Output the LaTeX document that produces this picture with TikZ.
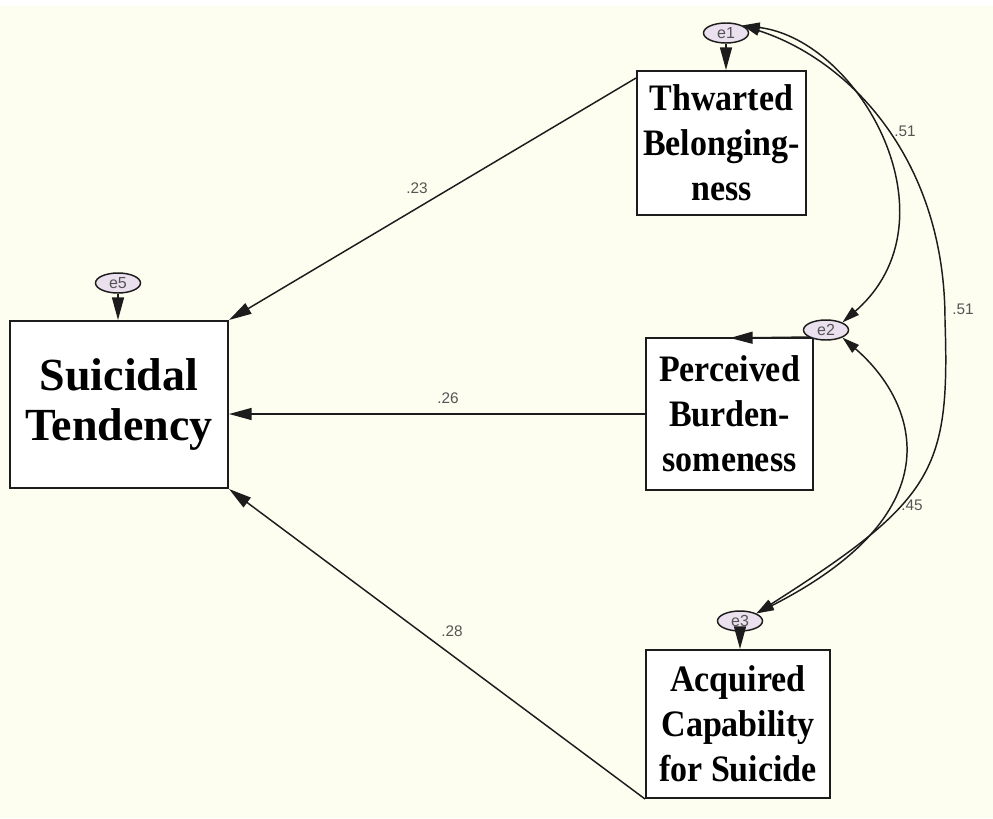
\documentclass[tikz,border=0pt]{standalone}
\usepackage{fontspec}
\setmainfont{Liberation Serif}
\setsansfont{Liberation Sans}
\newfontfamily\narrowserif{Liberation Serif}[FakeStretch=0.91]
\usetikzlibrary{arrows.meta,shapes.geometric}
\definecolor{paper}{RGB}{253,253,240}
\definecolor{errfill}{RGB}{234,224,238}
\definecolor{ink}{RGB}{28,28,28}
\definecolor{coef}{RGB}{85,85,85}
\tikzset{every picture/.style={line width=0.75pt}}
\tikzset{
  varbox/.style={draw=ink, line width=1.5pt, fill=white, rectangle, align=center, inner sep=0pt,
    font=\narrowserif\bfseries\fontsize{28}{33.75}\selectfont},
  errnode/.style={draw=ink, line width=1.1pt, fill=errfill, ellipse, minimum width=33.75pt,
    minimum height=15pt, inner sep=0pt, font=\sffamily\fontsize{12}{12}\selectfont, text=ink!75},
  coefnode/.style={font=\sffamily\fontsize{11.5}{11.5}\selectfont, text=coef, inner sep=0pt},
  regpath/.style={draw=ink, line width=1.1pt, -{Triangle[length=17pt,width=9pt]}},
  covpath/.style={draw=ink, line width=1.1pt, {Triangle[length=13pt,width=7.5pt]}-{Triangle[length=13pt,width=7.5pt]}},
}

\begin{document}
\begin{tikzpicture}[x=0.75pt,y=0.75pt,yscale=-1,xscale=1]
\useasboundingbox (0,0) rectangle (993,818);
%Shape: Background
\fill[white] (0,0) rectangle (993,6);
\fill[paper] (0,6) rectangle (993,818);

%Shape: Boxes
\node[varbox, minimum width=163.5pt, minimum height=125.25pt,
  font=\bfseries\fontsize{34.5}{37.5}\selectfont] (st) at (119,404.5) {Suicidal\\Tendency};
\node[varbox, minimum width=126.75pt, minimum height=108pt] (tb) at (721.5,143) {Thwarted\\Belonging-\\ness};
\node[varbox, minimum width=125.25pt, minimum height=114pt] (pb) at (729.5,414) {Perceived\\Burden-\\someness};
\node[varbox, minimum width=138pt, minimum height=111pt] (ac) at (738,724) {Acquired\\Capability\\for Suicide};

%Shape: Error terms
\node[errnode] (e5) at (118,283) {e5};
\node[errnode] (e1) at (726,33) {e1};
\node[errnode] (e2) at (826,330) {e2};
\node[errnode] (e3) at (740,621) {e3};
\coordinate (pbtip) at (730,338);

%Straight Lines: errors to variables
\draw[regpath] (e5) -- (st.north -| e5);
\draw[regpath] (e1) -- (tb.north -| e1);
\draw[regpath] (e2.south west |- pb.north) -- (pbtip);
\draw[regpath] (e3) -- (ac.north -| e3);

%Straight Lines: paths to Suicidal Tendency
\draw[regpath] ([yshift=6pt]tb.north west) -- (st.north east);
\draw[regpath] (pb.west) -- (st.east |- pb.west);
\draw[regpath] (ac.south west) -- (st.south east);

%Curve Lines: covariances
\draw[covpath] (e1.north east) .. controls (860,40) and (960,220) .. (e2.north east);
\draw[covpath] (e1.north east) .. controls (850,60) and (945,160) .. (945,320) .. controls (950,470) and (935,500) .. (e3.north east);
\draw[covpath] (e2.south east) .. controls (915,400) and (960,510) .. (e3.north east);

% Text Node
\node[coefnode] (c23) at (417,188) {.23};
\node[coefnode] (c26) at (448,398) {.26};
\node[coefnode] (c28) at (452,631) {.28};
\node[coefnode] (c51a) at (905,131) {.51};
\node[coefnode] (c51b) at (963,309) {.51};
\node[coefnode] (c45) at (912,505) {.45};

\end{tikzpicture}
\end{document}
